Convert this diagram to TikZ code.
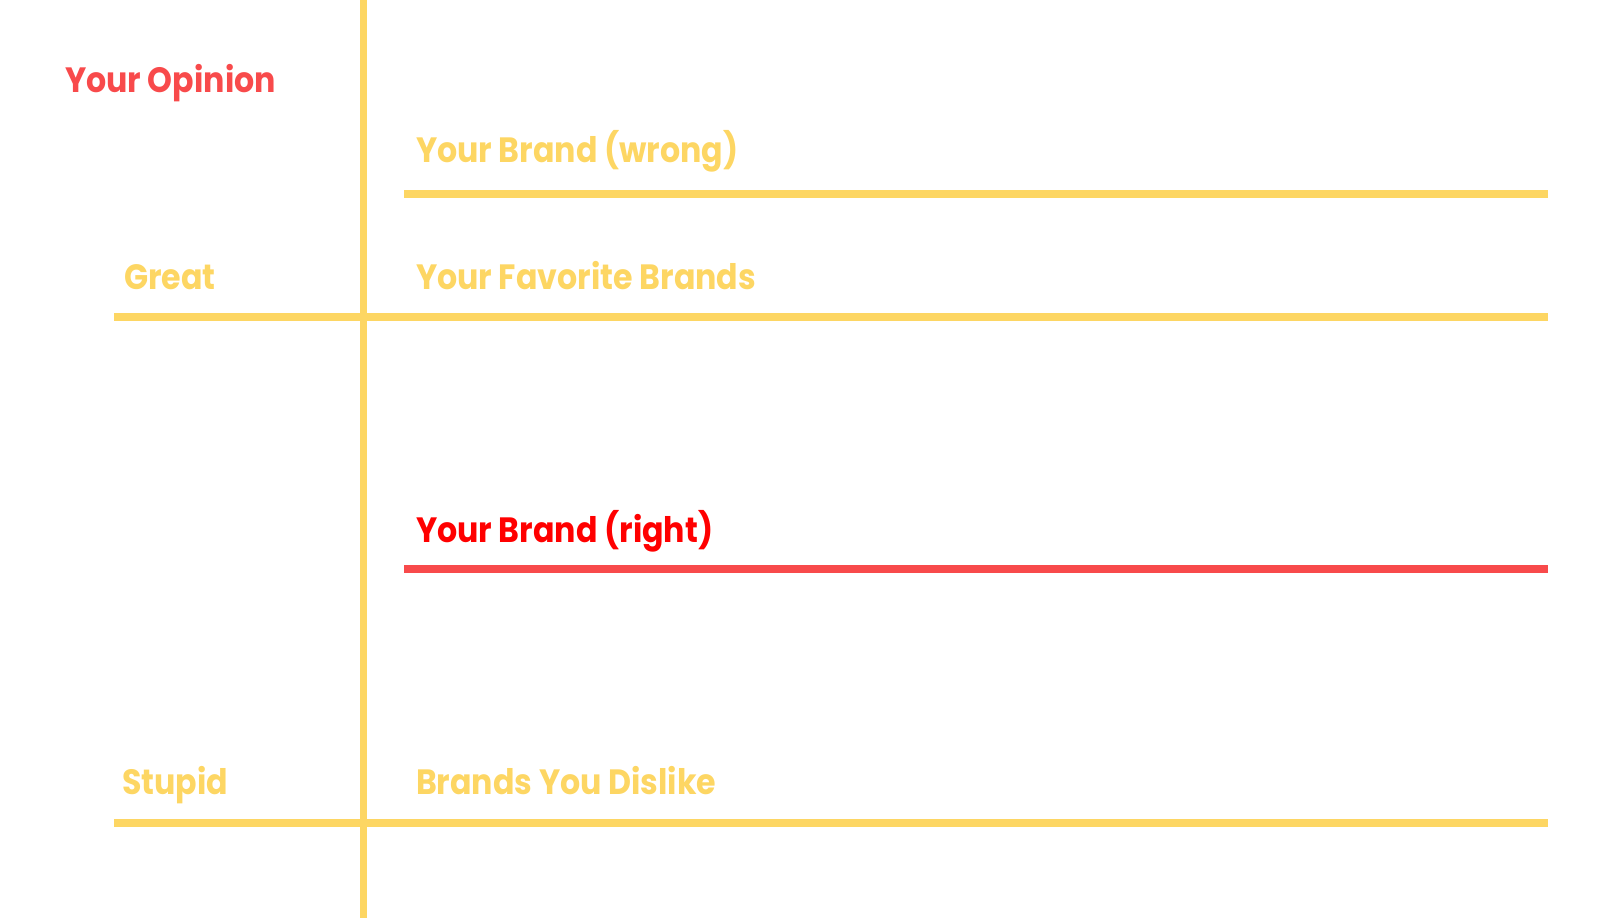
\documentclass[tikz,border=0pt]{standalone}
\usepackage{fontspec}
\setmainfont{Poppins}[FakeStretch=0.9]
\definecolor{gold}{HTML}{FDD663}
\definecolor{coral}{HTML}{F84A4B}
\definecolor{pure}{HTML}{FF0000}

\begin{document}
\begin{tikzpicture}[x=0.01cm, y=-0.01cm, line width=0.8mm]
    \useasboundingbox (0,0) rectangle (1600,918);

        \begin{scope}[every node/.style={anchor=base west,inner sep=0pt,outer sep=0pt,font=\fontsize{10}{12}\selectfont\bfseries}]
        \node[text=coral](opinion) at (65,92) {Your Opinion};
        \node[text=gold](wrong) at (416,162) {Your Brand (wrong)};
        \node[text=gold](great) at (124,289) {Great};
        \node[text=gold](fav) at (416,289) {Your Favorite Brands};
        \node[text=pure](right) at (416,542) {Your Brand (right)};
        \node[text=gold](stupid) at (122,794) {Stupid};
        \node[text=gold](dislike) at (416,794) {Brands You Dislike};
        \end{scope}

        \coordinate (top) at (363,0);
        \coordinate (bottom) at (363,918);
        \coordinate (w1) at (404,194);
        \coordinate (w2) at (1548,194);
        \coordinate (g1) at (114,317);
        \coordinate (g2) at (1548,317);
        \coordinate (r1) at (404,569);
        \coordinate (r2) at (1548,569);
        \coordinate (s1) at (114,823);
        \coordinate (s2) at (1548,823);

        \draw[gold, line width=0.7mm] (top) -- (bottom);
        \draw[gold] (w1) -- (w2);
        \draw[gold] (g1) -- (g2);
        \draw[coral] (r1) -- (r2);
        \draw[gold] (s1) -- (s2);

    \end{tikzpicture}
\end{document}
